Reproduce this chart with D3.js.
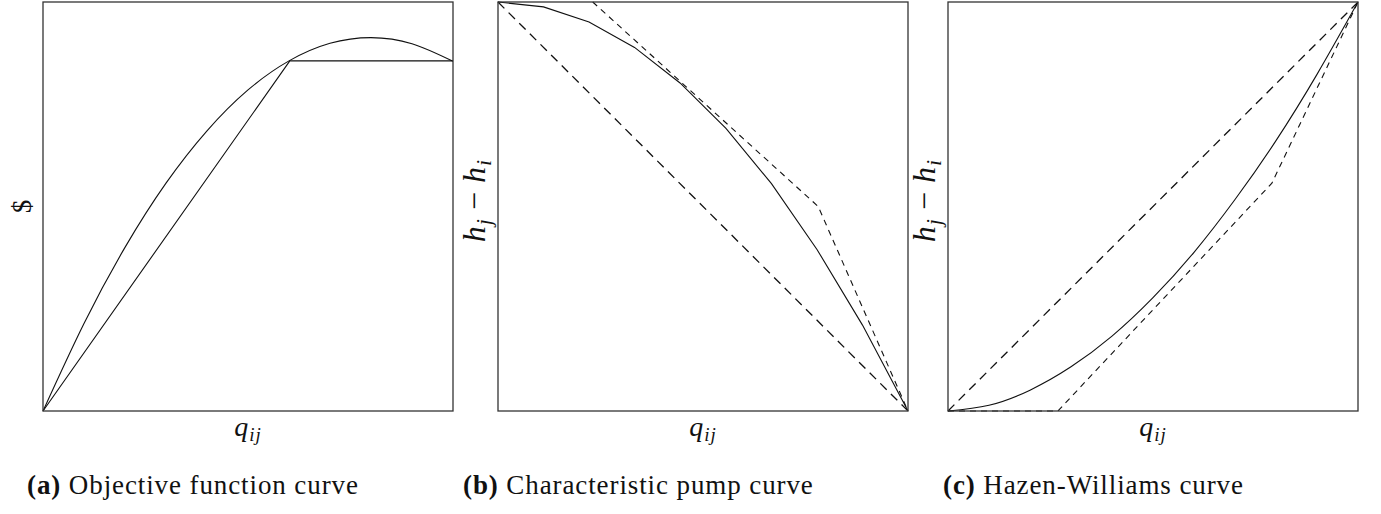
<!DOCTYPE html>
<html>
<head>
<meta charset="utf-8">
<script src="https://cdn.jsdelivr.net/npm/d3@7"></script>
<style>
  body { margin: 0; background: #fff; }
  text { font-family: "Liberation Serif", "Times New Roman", serif; fill: #111; }
</style>
</head>
<body>
<div id="chart"></div>
<script>
// Panel (a): objective function and its piecewise approximation
var objQ = [0, 0.1, 0.2, 0.3, 0.4, 0.5, 0.6, 0.7, 0.8, 0.9, 1];
var objCost = [0, 0.214, 0.400, 0.557, 0.685, 0.785, 0.856, 0.899, 0.913, 0.898, 0.855];
var objApproxQ = [0, 0.602, 1];
var objApproxCost = [0, 0.856, 0.856];

// Panel (b): pump curve, inner and outer approximations
var pumpQ = [0, 0.111, 0.222, 0.333, 0.444, 0.556, 0.667, 0.778, 0.889, 1];
var pumpHead = [1, 0.988, 0.951, 0.889, 0.802, 0.691, 0.556, 0.395, 0.210, 0];
var pumpInnerQ = [0, 1];
var pumpInnerHead = [1, 0];
var pumpOuterQ = [0.231, 0.781, 1];
var pumpOuterHead = [1, 0.500, 0];

// Panel (c): Hazen-Williams curve, inner and outer approximations
var hwQ = [0, 0.1, 0.2, 0.3, 0.4, 0.5, 0.6, 0.7, 0.8, 0.9, 1];
var hwHead = [0, 0.014, 0.051, 0.108, 0.183, 0.277, 0.388, 0.517, 0.661, 0.823, 1];
var hwInnerQ = [0, 1];
var hwInnerHead = [0, 1];
var hwOuterQ = [0, 0.268, 0.790, 1];
var hwOuterHead = [0, 0, 0.557, 1];

var captions = [["(a)", "Objective function curve"],
                ["(b)", "Characteristic pump curve"],
                ["(c)", "Hazen-Williams curve"]];

var width = 1381, height = 514;
var boxLeft = [43, 498, 948], boxSize = 410, boxTop = 2;
var captionX = [27, 463, 943];

var svg = d3.select("#chart").append("svg")
    .attr("width", width)
    .attr("height", height);

function zip(xs, ys) {
    return xs.map(function(x, i) { return [x, ys[i]]; });
}

var panels = [
  { ylabel: "$",
    lines: [
      { data: zip(objQ, objCost), curve: d3.curveNatural, dash: null },
      { data: zip(objApproxQ, objApproxCost), curve: d3.curveLinear, dash: null }
    ] },
  { ylabel: "h",
    lines: [
      { data: zip(pumpQ, pumpHead), curve: d3.curveLinear, dash: null },
      { data: zip(pumpInnerQ, pumpInnerHead), curve: d3.curveLinear, dash: "9,6", w: 1.3 },
      { data: zip(pumpOuterQ, pumpOuterHead), curve: d3.curveLinear, dash: "6,5" }
    ] },
  { ylabel: "h",
    lines: [
      { data: zip(hwQ, hwHead), curve: d3.curveNatural, dash: null },
      { data: zip(hwInnerQ, hwInnerHead), curve: d3.curveLinear, dash: "9,6", w: 1.3 },
      { data: zip(hwOuterQ, hwOuterHead), curve: d3.curveLinear, dash: "6,5" }
    ] }
];

panels.forEach(function(p, k) {
    var x = d3.scaleLinear().domain([0, 1]).range([boxLeft[k], boxLeft[k] + boxSize]);
    var y = d3.scaleLinear().domain([0, 1]).range([boxTop + boxSize - 1, boxTop]);

    var g = svg.append("g");

    p.lines.forEach(function(l) {
        var line = d3.line()
            .x(function(d) { return x(d[0]); })
            .y(function(d) { return y(d[1]); })
            .curve(l.curve);
        g.append("path")
            .attr("d", line(l.data))
            .attr("fill", "none")
            .attr("stroke", "#111")
            .attr("stroke-width", l.w || 1.1)
            .attr("stroke-dasharray", l.dash);
    });

    // frame
    g.append("rect")
        .attr("x", x(0)).attr("y", y(1))
        .attr("width", x(1) - x(0)).attr("height", y(0) - y(1))
        .attr("fill", "none")
        .attr("stroke", "#333")
        .attr("stroke-width", 1.3);

    // x label q_ij
    var xl = g.append("text")
        .attr("x", (x(0) + x(1)) / 2)
        .attr("y", 436)
        .attr("text-anchor", "middle")
        .style("font-size", "28px")
        .style("font-style", "italic");
    xl.append("tspan").text("q");
    xl.append("tspan").attr("dy", 5).attr("dx", 1).style("font-size", "19px").style("letter-spacing", "1px").text("ij");

    // y label
    if (p.ylabel == "$") {
        g.append("text")
            .attr("text-anchor", "middle")
            .attr("transform", "translate(" + (x(0) - 12) + "," + ((y(0) + y(1)) / 2) + ") rotate(-90)")
            .style("font-size", "27px")
            .text("$");
    } else {
        var yl = g.append("text")
            .attr("text-anchor", "middle")
            .attr("transform", "translate(" + (x(0) - 13) + ",201) rotate(-90)")
            .style("font-size", "32px")
            .style("font-style", "italic");
        yl.append("tspan").text("h");
        yl.append("tspan").attr("dy", 6).attr("dx", 1).style("font-size", "22px").text("j");
        yl.append("tspan").attr("dy", -6).attr("dx", 9).style("font-style", "normal").text("\u2212");
        yl.append("tspan").attr("dx", 9).text("h");
        yl.append("tspan").attr("dy", 6).attr("dx", 1).style("font-size", "22px").text("i");
    }

    // caption
    var cap = svg.append("text")
        .attr("x", captionX[k])
        .attr("y", 494)
        .style("font-size", "27px")
        .style("letter-spacing", "0.9px");
    cap.append("tspan").style("font-weight", "bold").text(captions[k][0]);
    cap.append("tspan").text(" " + captions[k][1]);
});
</script>
</body>
</html>
